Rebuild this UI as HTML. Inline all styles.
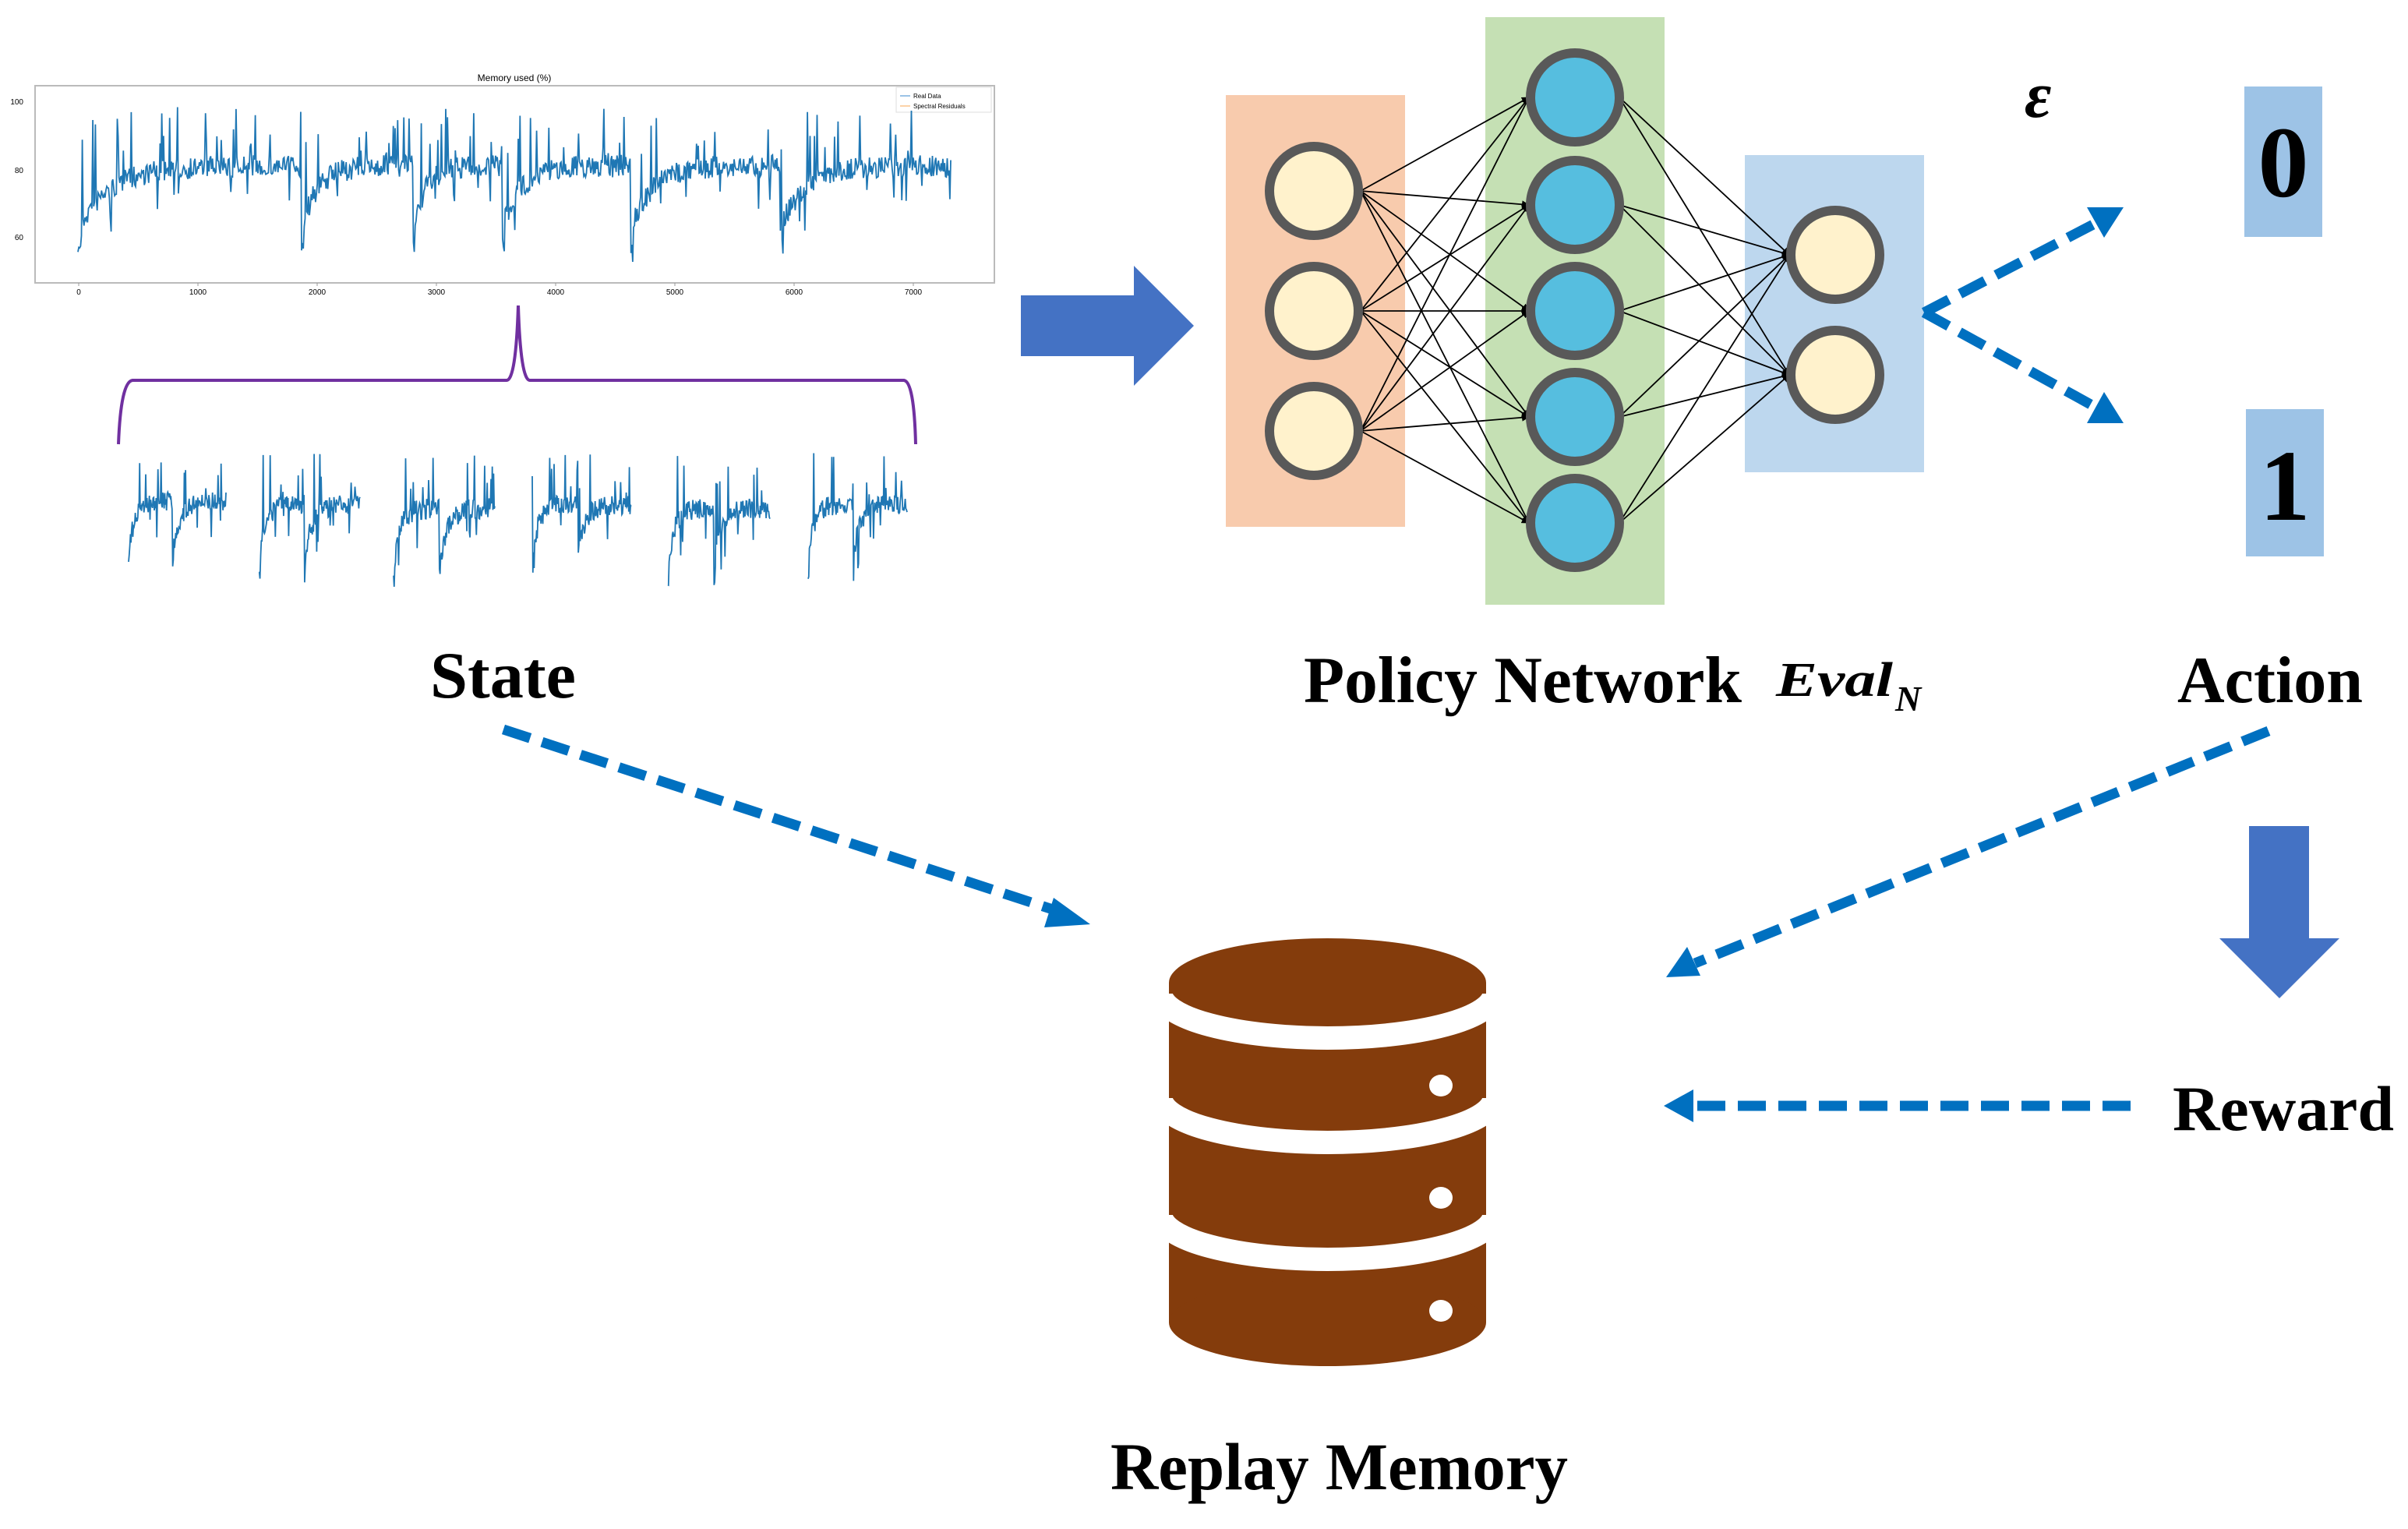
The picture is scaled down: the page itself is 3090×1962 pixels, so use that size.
<!DOCTYPE html>
<html><head><meta charset="utf-8"><style>
html,body{margin:0;padding:0;background:#fff;}
svg{display:block;}
text{font-family:"Liberation Serif",serif;font-weight:bold;fill:#000;}
</style></head><body>
<svg id="s" width="3090" height="1962" viewBox="0 0 3090 1962" xmlns="http://www.w3.org/2000/svg">
<defs>
<marker id="ah" markerWidth="10" markerHeight="10" refX="9" refY="5" orient="auto" markerUnits="userSpaceOnUse" viewBox="0 0 10 10">
<path d="M0,0 L10,5 L0,10 z" fill="#000"/></marker>
</defs>
<text x="660" y="104" font-size="12" text-anchor="middle" style="font-family:'Liberation Sans',sans-serif;font-weight:normal">Memory used (%)</text>
<rect x="45" y="110" width="1231" height="253" fill="#fff" stroke="#bbb" stroke-width="2"/>
<g font-size="10">
<text x="30" y="134" text-anchor="end" style="font-weight:normal;font-family:'Liberation Sans',sans-serif">100</text>
<text x="30" y="222" text-anchor="end" style="font-weight:normal;font-family:'Liberation Sans',sans-serif">80</text>
<text x="30" y="308" text-anchor="end" style="font-weight:normal;font-family:'Liberation Sans',sans-serif">60</text>
</g>
<g id="xt"></g>
<rect x="1150" y="112" width="122" height="32" fill="#fff" stroke="#ddd"/>
<line x1="1155" y1="123" x2="1168" y2="123" stroke="#9cc3e6" stroke-width="2"/>
<line x1="1155" y1="136" x2="1168" y2="136" stroke="#fcd3a8" stroke-width="2"/>
<text x="1172" y="126" font-size="8" style="font-weight:normal;font-family:'Liberation Sans',sans-serif">Real Data</text>
<text x="1172" y="139" font-size="8" style="font-weight:normal;font-family:'Liberation Sans',sans-serif">Spectral Residuals</text>
<g id="chart" fill="none" stroke="#1f77b4" stroke-width="1.8"></g>
<path d="M152,570 Q155,490 170,488 L650,488 Q662,488 665,392 Q668,488 680,488 L1160,488 Q1173,490 1175,570" fill="none" stroke="#7030a0" stroke-width="4"/>
<g id="minis" fill="none" stroke="#1f77b4" stroke-width="1.8"></g>
<polygon points="1310,379 1455,379 1455,341 1532,418 1455,495 1455,457 1310,457" fill="#4472c4"/>
<rect x="1573" y="122" width="230" height="554" fill="#f8cbad"/>
<rect x="1906" y="22" width="230" height="754" fill="#c5e0b4"/>
<rect x="2239" y="199" width="230" height="407" fill="#bdd7ee"/>
<g id="edges" stroke="#000" stroke-width="1.8"></g>
<g id="nodes" stroke="#595959" stroke-width="12"></g>
<text x="2598" y="150" font-size="84" font-style="italic">ε</text>
<rect x="2880" y="111" width="100" height="193" fill="#9dc3e6"/>
<rect x="2882" y="525" width="100" height="189" fill="#9dc3e6"/>
<text x="2930" y="252" font-size="130" text-anchor="middle">0</text>
<text x="2932" y="667" font-size="130" text-anchor="middle">1</text>
<g stroke="#0070c0" stroke-width="13" fill="none" stroke-dasharray="36,16">
<line x1="2469" y1="401" x2="2690" y2="286"/>
<line x1="2469" y1="401" x2="2690" y2="523"/>
<line x1="646" y1="936" x2="1360" y2="1170"/>
<line x1="2911" y1="938" x2="2175" y2="1236"/>
<line x1="2734" y1="1419" x2="2175" y2="1419"/>
</g>
<g fill="#0070c0">
<polygon points="2725,266 2678,266 2700,305"/>
<polygon points="2725,543 2700,503 2678,543"/>
<polygon points="1399,1186 1352,1152 1340,1190"/>
<polygon points="2138,1254 2165,1215 2182,1252"/>
<polygon points="2135,1419 2173,1398 2173,1440"/>
</g>
<polygon points="2886,1060 2963,1060 2963,1204 3002,1204 2925,1281 2848,1204 2886,1204" fill="#4472c4"/>
<g fill="#843c0c">
<rect x="1500" y="1261" width="407" height="436"/>
<ellipse cx="1703.5" cy="1697" rx="203.5" ry="56"/>
<ellipse cx="1703.5" cy="1261" rx="203.5" ry="57"/>
</g>
<g fill="none" stroke="#fff" stroke-width="30">
<path d="M1490,1275 A213.5,57 0 0 0 1917,1275"/>
<path d="M1490,1409 A213.5,57 0 0 0 1917,1409"/>
<path d="M1490,1559 A213.5,57 0 0 0 1917,1559"/>
</g>
<g fill="#fff">
<ellipse cx="1849" cy="1393" rx="15" ry="14"/>
<ellipse cx="1849" cy="1537" rx="15" ry="14"/>
<ellipse cx="1849" cy="1682" rx="15" ry="14"/>
</g>
<text x="552" y="895" font-size="85" textLength="187" lengthAdjust="spacingAndGlyphs">State</text>
<text x="1673" y="901" font-size="85" textLength="562" lengthAdjust="spacingAndGlyphs">Policy Network</text>
<text x="2279" y="893" font-size="62" font-style="italic" textLength="150" lengthAdjust="spacingAndGlyphs">Eval</text>
<text x="2432" y="912" font-size="46" font-style="italic">N</text>
<text x="2794" y="901" font-size="85" textLength="238" lengthAdjust="spacingAndGlyphs">Action</text>
<text x="2788" y="1450" font-size="82" textLength="284" lengthAdjust="spacingAndGlyphs">Reward</text>
<text x="1425" y="1911" font-size="86" textLength="587" lengthAdjust="spacingAndGlyphs">Replay Memory</text>
</svg>
<script>
var NS="http://www.w3.org/2000/svg";
var seed=7;function r(){seed=(seed*16807)%2147483647;return (seed-1)/2147483646;}
function el(t,a,p){var e=document.createElementNS(NS,t);for(var k in a)e.setAttribute(k,a[k]);p.appendChild(e);return e;}
var xt=document.getElementById('xt');
for(var i=0;i<=7;i++){var x=101+i*1000*0.153;el('line',{x1:x,y1:363,x2:x,y2:367,stroke:'#999'},xt);
var t=el('text',{x:x,y:378,'font-size':10,'text-anchor':'middle',style:"font-weight:normal;font-family:'Liberation Sans',sans-serif"},xt);t.textContent=i*1000;}
function series(x0,x1,ytop,ybot,segs,n){
 var pts=[];
 for(var i=0;i<n;i++){
  var f=i/(n-1);var x=x0+f*(x1-x0);
  var s=0;for(var j=0;j<segs.length;j++)if(f>=segs[j])s=j;
  var a=segs[s],b=(s+1<segs.length?segs[s+1]:1);var g=(f-a)/Math.max(1e-6,b-a);
  var base=0.40+0.40*Math.exp(-g*7);
  var v=base+(r()-0.5)*0.14;
  if(g<0.02)v=0.8+r()*0.15;
  var q=r();
  if(q<0.07)v=0.03+r()*0.3;
  else if(q<0.10)v=base+0.12+r()*0.15;
  pts.push(x.toFixed(1)+','+(ytop+Math.min(1,Math.max(0,v))*(ybot-ytop)).toFixed(1));
 }
 return pts.join(' ');
}
el('polyline',{points:series(100,1220,131,336,[0,0.256,0.384,0.486,0.633,0.804],1000)},document.getElementById('chart'));
var mn=document.getElementById('minis');
var mx=[[165,290],[332,462],[505,635],[683,810],[857,988],[1037,1164]];
for(var i=0;i<6;i++){el('polyline',{points:series(mx[i][0],mx[i][1],575,745+((i*37)%25),[0,0.45],160)},mn);}
var inp=[245,399,553],hid=[125,263,399,535,671],out=[327,481];
var E=document.getElementById('edges'),N=document.getElementById('nodes');
inp.forEach(function(a){hid.forEach(function(b){el('line',{x1:1746,y1:a,x2:1962,y2:b,'marker-end':'url(#ah)'},E);});});
hid.forEach(function(a){out.forEach(function(b){el('line',{x1:2078,y1:a,x2:2296,y2:b,'marker-end':'url(#ah)'},E);});});
inp.forEach(function(y){el('circle',{cx:1686,cy:y,r:57,fill:'#fff2cc'},N);});
hid.forEach(function(y){el('circle',{cx:2021,cy:y,r:57,fill:'#56bedf'},N);});
out.forEach(function(y){el('circle',{cx:2355,cy:y,r:57,fill:'#fff2cc'},N);});
</script>
</body></html>
